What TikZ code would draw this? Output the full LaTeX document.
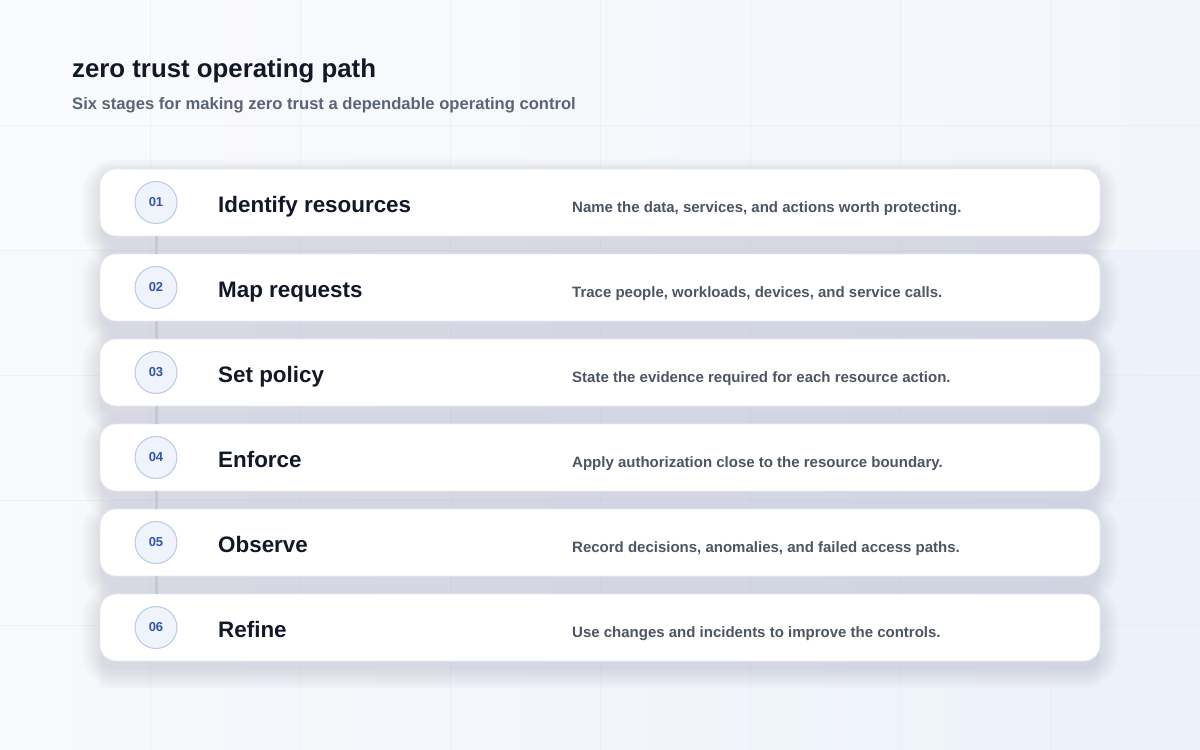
\documentclass[tikz,border=0pt]{standalone}
\usepackage{fontspec}
\setmainfont{Liberation Sans}
\usetikzlibrary{calc}
\pgfdeclarelayer{bg}
\pgfdeclarelayer{shadow}
\pgfsetlayers{bg,shadow,main}
\definecolor{bgA}{HTML}{F8F9FC}
\definecolor{bgB}{HTML}{ECF1FA}
\definecolor{gridc}{HTML}{E6EAF2}
\definecolor{panelc}{HTML}{E9ECF4}
\definecolor{titlec}{HTML}{111827}
\definecolor{subc}{HTML}{5B6475}
\definecolor{descc}{HTML}{4B5563}
\definecolor{numc}{HTML}{3256A8}
\definecolor{numfill}{HTML}{EEF3FC}
\definecolor{numdraw}{HTML}{B9CAE6}
\definecolor{cardline}{HTML}{E6E9F0}
\definecolor{linkc}{HTML}{C5C9D2}
\definecolor{shadowc}{HTML}{8E98B5}
\tikzset{
  x=1pt,y=-1pt,
  card/.style={draw=cardline,line width=0.8pt,fill=white,rounded corners=16pt,
    minimum width=1000pt,minimum height=67pt,inner sep=0pt},
  numdot/.style={circle,draw=numdraw,line width=1pt,fill=numfill,minimum size=42pt,inner sep=0pt,
    font=\fontsize{13}{15}\selectfont\bfseries,text=numc},
  steptitle/.style={anchor=base west,font=\fontsize{22.4}{26}\selectfont\bfseries,text=titlec,inner sep=0pt},
  stepdesc/.style={anchor=base west,font=\fontsize{15}{18}\selectfont\bfseries,text=descc,inner sep=0pt},
  link/.style={draw=linkc,line width=3pt},
  shadowpiece/.style={fill=shadowc,opacity=0.02},
}
\begin{document}
\begin{tikzpicture}
\useasboundingbox (0,0) rectangle (1200,750);
\begin{pgfonlayer}{bg}
\shade[left color=bgA,right color=bgB] (0,0) rectangle (1200,750);
\fill[white,opacity=0.35] (0,0) rectangle (1200,250);
\foreach \gx in {150,300,450,600,750,900,1050} \draw[gridc,line width=0.8pt,opacity=0.5] (\gx,0) -- (\gx,750);
\foreach \gy in {125,250,375,500,625} \draw[gridc,line width=0.8pt,opacity=0.5] (0,\gy) -- (1200,\gy);
\fill[panelc,opacity=0.35] (100,165) rectangle (1100,688);
\end{pgfonlayer}
\node[anchor=base west,inner sep=0pt,font=\fontsize{25.8}{30}\selectfont\bfseries,text=titlec] (title) at (72,77) {zero trust operating path};
\node[anchor=base west,inner sep=0pt,font=\fontsize{16.6}{20}\selectfont\bfseries,text=subc] (subtitle) at (72,109.5) {Six stages for making zero trust a dependable operating control};
\foreach \i/\num/\ttl/\dsc in {
  1/01/Identify resources/{Name the data, services, and actions worth protecting.},
  2/02/Map requests/{Trace people, workloads, devices, and service calls.},
  3/03/Set policy/{State the evidence required for each resource action.},
  4/04/Enforce/{Apply authorization close to the resource boundary.},
  5/05/Observe/{Record decisions, anomalies, and failed access paths.},
  6/06/Refine/{Use changes and incidents to improve the controls.}} {
  \pgfmathsetmacro{\cy}{202.5+85*(\i-1)}
  \node[card] (c\i) at (600,\cy) {};
  \begin{pgfonlayer}{shadow}
    \foreach \k in {0,1.5,...,18}
      \fill[shadowpiece,rounded corners=16+\k] ($(c\i.north west)+(-\k,8-\k)$) rectangle ($(c\i.south east)+(\k,8+\k)$);
  \end{pgfonlayer}
  \node[numdot] (n\i) at (156,\cy) {\num};
  \node[steptitle] (t\i) at (218,\cy+9.5) {\ttl};
  \node[stepdesc] (d\i) at (572,\cy+10) {\dsc};
}
\foreach \i/\j in {1/2,2/3,3/4,4/5,5/6}
  \draw[link] (c\i.south -| n\i) -- (c\j.north -| n\j);
\end{tikzpicture}
\end{document}
